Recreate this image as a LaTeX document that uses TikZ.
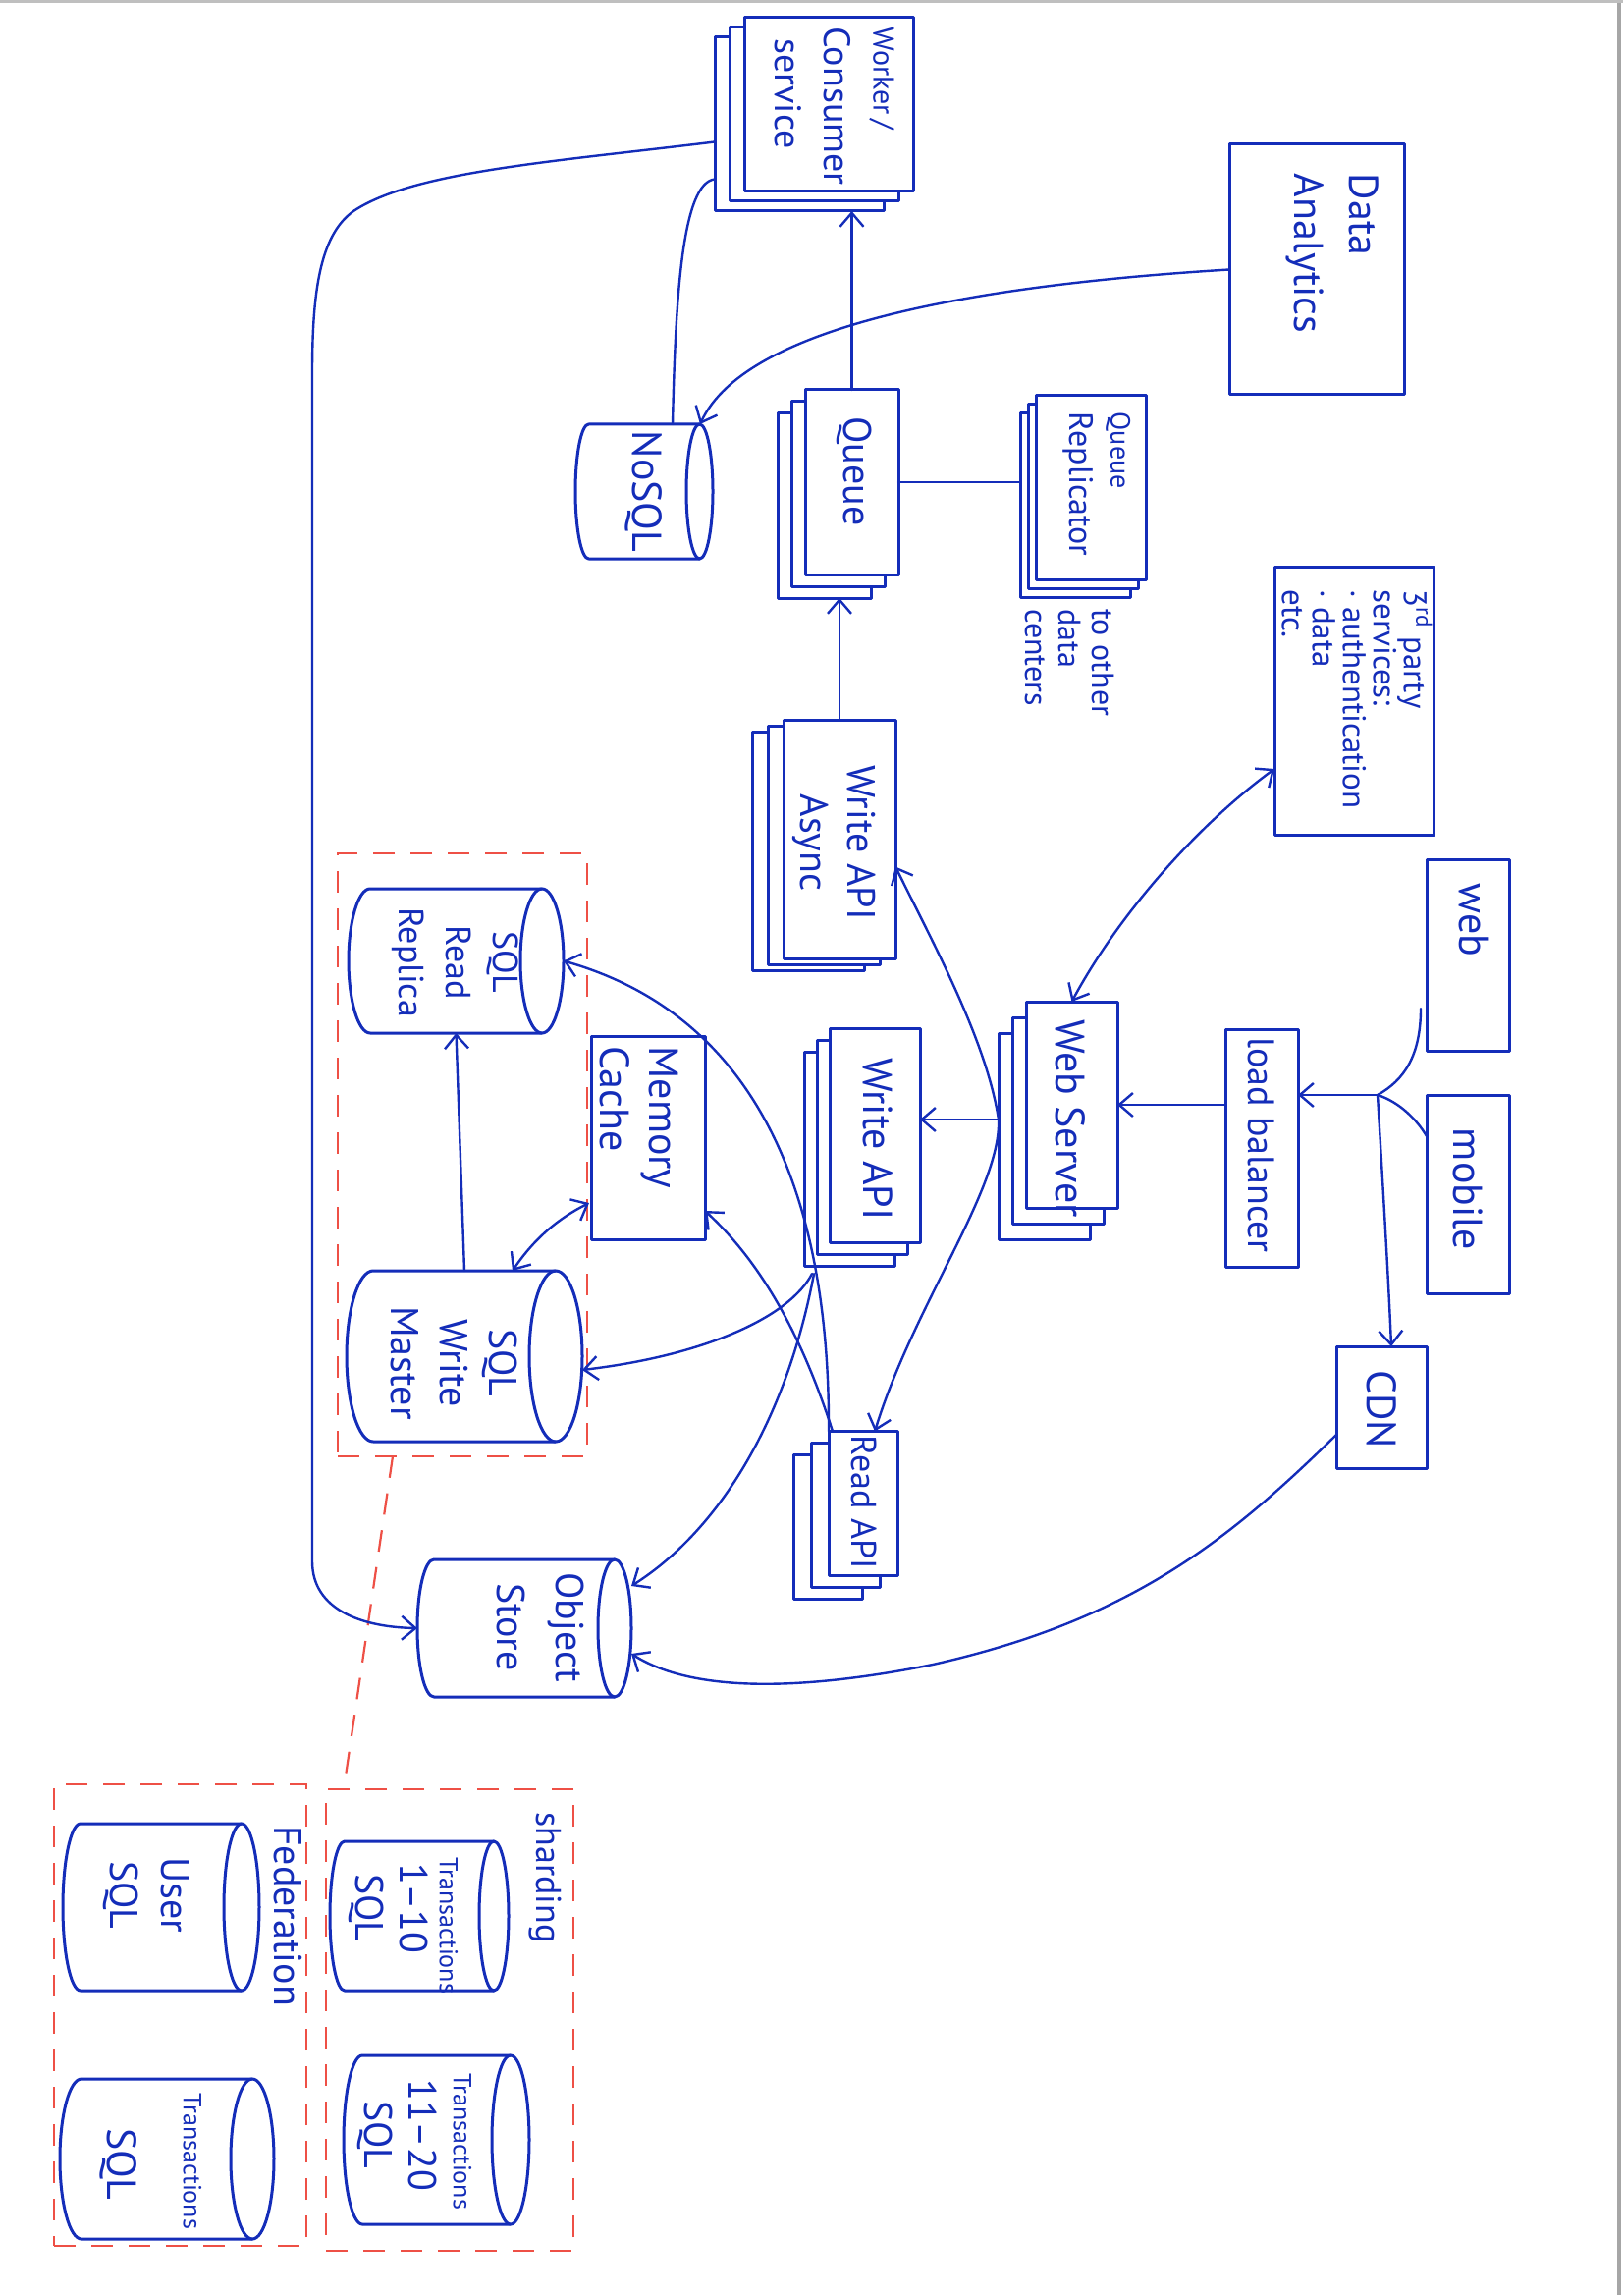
\documentclass[tikz,border=0pt]{standalone}
\usepackage{fontspec}
\setmainfont{PT Sans}
\usetikzlibrary{arrows.meta}
\definecolor{ink}{RGB}{20,45,185}
\definecolor{redpen}{RGB}{238,80,70}
\newcommand{\stackthree}[7]{%
  \node[box,minimum width=#4,minimum height=#5] (#13) at ({#2+2*(#6)},{#3+2*(#7)}) {};
  \node[box,minimum width=#4,minimum height=#5] (#12) at ({#2+(#6)},{#3+(#7)}) {};
  \node[box,minimum width=#4,minimum height=#5] (#1) at (#2,#3) {};}
\newcommand{\cyl}[3]{%
  \draw[boxline] (#1.north east) -- (#1.north west) arc[start angle=90,end angle=270,x radius=#2,y radius=#3] -- (#1.south east);
  \draw[boxline] (#1.east) ellipse[x radius=#2,y radius=#3];}
\begin{document}
\begin{tikzpicture}[x=0.5pt,y=-0.5pt,
  boxline/.style={draw=ink,line width=1.5pt,line join=round,line cap=round},
  box/.style={boxline,fill=white,inner sep=0pt,outer sep=0pt,rectangle},
  anch/.style={inner sep=0pt,outer sep=0pt,rectangle},
  conn/.style={draw=ink,line width=1.2pt,line cap=round},
  arr/.style={conn,-{Straight Barb[length=7pt,width=12pt]}},
  arr2/.style={conn,{Straight Barb[length=7pt,width=12pt]}-{Straight Barb[length=7pt,width=12pt]}},
  txt/.style={rotate=-90,text=ink,inner sep=0pt,align=center,font=\fontsize{21}{25}\selectfont},
  redbox/.style={draw=redpen,line width=1.1pt,dash pattern=on 11pt off 8pt,inner sep=0pt,outer sep=0pt,rectangle},
  reddash/.style={draw=redpen,line width=1.1pt,dash pattern=on 11pt off 8pt}]
\fill[white] (0,0) rectangle (1653,2337);
\useasboundingbox (0,0) rectangle (1653,2337);
\draw[black!35,line width=2pt] (1649,0) -- (1649,2337);
\draw[black!25,line width=1.5pt] (0,2) -- (1653,2);

% red dashed groups
\node[redbox,minimum width=127pt,minimum height=307pt] (grp) at (471,1176) {};
\node[redbox,minimum width=126pt,minimum height=235pt] (shard) at (458,2057) {};
\node[redbox,minimum width=128.5pt,minimum height=235pt] (fed) at (183.5,2052) {};
\draw[reddash] ([xshift=-35.5pt]grp.south) -- ([xshift=9pt]shard.north west);

% stacks
\stackthree{wk}{844}{106.5}{86pt}{88.5pt}{-15}{10}
\stackthree{qu}{867.5}{491}{47.5pt}{94pt}{-14}{12}
\stackthree{rp}{1111}{496.5}{56pt}{93.5pt}{-8}{9}
\stackthree{wa}{855}{854.5}{57pt}{121.5pt}{-16}{6}
\stackthree{ws}{1091.5}{1125}{46.5pt}{105pt}{-14}{16}
\stackthree{wp}{891}{1156}{46pt}{109pt}{-13}{12}
\stackthree{ra}{879}{1531}{35pt}{73.5pt}{-18}{12}

% single boxes
\node[box,minimum width=89pt,minimum height=127.5pt] (da) at (1341,274.5) {};
\node[box,minimum width=81pt,minimum height=136.5pt] (tp) at (1379,713.5) {};
\node[box,minimum width=58pt,minimum height=103.5pt] (mc) at (660,1158.5) {};
\node[box,minimum width=37pt,minimum height=121pt] (lb) at (1285,1169) {};
\node[box,minimum width=42pt,minimum height=97.5pt] (web) at (1495,972.5) {};
\node[box,minimum width=42pt,minimum height=101pt] (mobile) at (1495,1216) {};
\node[box,minimum width=46pt,minimum height=62pt] (cdn) at (1407,1433) {};

% cylinders
\node[anch,minimum width=56.5pt,minimum height=68.5pt] (nosql) at (656,500.5) {};
\cyl{nosql}{6.75pt}{34.25pt}
\node[anch,minimum width=87.5pt,minimum height=73.5pt] (rr) at (464.5,978.5) {};
\cyl{rr}{11pt}{36.75pt}
\node[anch,minimum width=93pt,minimum height=87pt] (wm) at (473,1381) {};
\cyl{wm}{13.5pt}{43.5pt}
\node[anch,minimum width=92pt,minimum height=70pt] (os) at (534,1658) {};
\cyl{os}{8.5pt}{35pt}
\node[anch,minimum width=76pt,minimum height=76pt] (t1) at (427,1951) {};
\cyl{t1}{7.5pt}{38pt}
\node[anch,minimum width=75.5pt,minimum height=86pt] (t2) at (444.5,2179) {};
\cyl{t2}{9.5pt}{43pt}
\node[anch,minimum width=82pt,minimum height=85pt] (us) at (164,1942) {};
\cyl{us}{9pt}{42.5pt}
\node[anch,minimum width=87pt,minimum height=81.5pt] (ts) at (170,2198.5) {};
\cyl{ts}{11pt}{40.75pt}

% texts
\node[txt,align=left,font=\fontsize{19}{25}\selectfont] (wkt) at (850,108) {{\fontsize{15}{17}\selectfont Worker\,/}\\Consumer\\\hspace{6pt}service};
\node[txt,align=left,font=\fontsize{21}{28}\selectfont] (dat) at (1357,258) {Data\\Analytics};
\node[txt] (nosqlt) at (nosql) {NoSQL};
\node[txt,font=\fontsize{20}{25}\selectfont] (qut) at (870,480) {Queue};
\node[txt,align=left,font=\fontsize{17}{21}\selectfont] (rpt) at (1117,493) {{\fontsize{14}{16}\selectfont Queue}\\Replicator};
\node[txt,align=left,anchor=north west,font=\fontsize{16}{17}\selectfont] (dct) at (1135,620) {to other\\data\\centers};
\node[txt,align=left,anchor=north west,font=\fontsize{16.5}{15.5}\selectfont] (tpt) at (1459,600) {3\textsuperscript{rd} party\\services:\\· authentication\\· data\\etc.};
\node[txt,font=\fontsize{20}{24}\selectfont] (wat) at (850,858) {Write API\\Async};
\node[txt] (wst) at (1090,1139) {Web Server};
\node[txt] (wpt) at (894,1160) {Write API};
\node[txt,font=\fontsize{18}{22}\selectfont] (rat) at (880,1530) {Read API};
\node[txt,align=left] (mct) at (651,1138) {Memory\\Cache};
\node[txt,font=\fontsize{19}{22}\selectfont] (lbt) at (1285,1166) {load balancer};
\node[txt] (webt) at (1501,937) {web};
\node[txt] (mobt) at (1495,1211) {mobile};
\node[txt] (cdnt) at (1407,1435) {CDN};
\node[txt,font=\fontsize{20}{30}\selectfont] (ost) at (550,1657) {Object\\Store};
\node[txt,font=\fontsize{18}{24}\selectfont] (rrt) at (464,980) {SQL\\Read\\Replica};
\node[txt,font=\fontsize{20}{25}\selectfont] (wmt) at (462,1388) {SQL\\Write\\Master};
\node[txt,font=\fontsize{18}{20}\selectfont] (shardt) at (555,1912) {sharding};
\node[txt,font=\fontsize{20}{22}\selectfont] (fedt) at (293,1951) {Federation};
\node[txt,font=\fontsize{13}{14}\selectfont] (t1a) at (457,1961) {Transactions};
\node[txt,font=\fontsize{20}{22.5}\selectfont] (t1b) at (396,1943) {1--10\\SQL};
\node[txt,font=\fontsize{13}{14}\selectfont] (t2a) at (471,2181) {Transactions};
\node[txt,font=\fontsize{20}{22.5}\selectfont] (t2b) at (405,2174) {11--20\\SQL};
\node[txt,font=\fontsize{20}{26}\selectfont] (ust) at (149,1930) {User\\SQL};
\node[txt,font=\fontsize{13}{14}\selectfont] (tsa) at (196,2201) {Transactions};
\node[txt] (tsb) at (121,2204) {SQL};

% connectors
\draw[arr] (qu.north) -- (qu.north |- wk3.south);
\draw[arr] (wa.north) -- (wa.north |- qu3.south);
\draw[conn] (qu.east) -- (qu.east -| rp3.west);
\draw[arr] (da.west) .. controls (1000,290) and (760,330) .. ([xshift=28.5pt]nosql.north);
\draw[conn] ([yshift=-28pt]wk3.west) .. controls (695,186) and (688,300) .. ([xshift=14.5pt]nosql.north);
\draw[arr] ([yshift=-9pt]wk3.west) .. controls (560,165) and (420,175) .. (360,215) .. controls (325,240) and (318,300) .. (318,380) -- (318,1590) .. controls (318,1640) and (370,1657) .. ([xshift=-8.5pt]os.west);
\draw[arr2] (ws.north) .. controls (1140,930) and (1220,840) .. ([yshift=33.5pt]tp.south west);
\draw[arr] (lb.west |- ws.east) -- (ws.east);
\path (wp.east) ++(0,-16) coordinate (wpe);
\coordinate (wsl) at (ws3.west |- wpe);
\draw[arr] (wsl) -- (wpe);
\draw[arr] (wsl) .. controls (1005,1060) and (950,960) .. ([yshift=-14pt]wa.east);
\draw[arr] (wsl) .. controls (1020,1210) and (930,1330) .. ([xshift=6pt]ra.north);
\coordinate (jn) at (1403,1115);
\draw[conn] ([shift={(-3pt,21.5pt)}]web.south west) .. controls (1447,1075) and (1430,1100) .. (jn);
\draw[conn] (jn) .. controls (1425,1122) and (1443,1140) .. ([yshift=-21pt]mobile.north west);
\draw[arr] (jn) -- (jn -| lb.east);
\draw[arr] (jn) .. controls (1408,1200) and (1414,1300) .. ([xshift=5pt]cdn.north);
\draw[arr] ([yshift=-14pt]cdn.west) .. controls (1250,1570) and (1150,1650) .. (950,1695) .. controls (800,1725) and (700,1720) .. ([shift={(8.5pt,-13pt)}]os.east);
\draw[arr] (wm.north) -- (rr.south);
\draw[arr2] ([xshift=24.5pt]wm.north) .. controls (545,1260) and (570,1240) .. ([shift={(-1pt,18.5pt)}]mc.south west);
\draw[arr] (ra.north west) .. controls (845,1250) and (790,1040) .. ([xshift=11pt]rr.east);
\draw[arr] ([xshift=2pt]ra.north west) .. controls (820,1370) and (780,1290) .. ([yshift=14.5pt]mc.south east);
\draw[arr] ([shift={(4pt,-4pt)}]wp3.south west) .. controls (805,1340) and (720,1380) .. ([shift={(13.5pt,-7pt)}]wm.east);
\draw[arr] ([shift={(5pt,-4pt)}]wp3.south west) .. controls (800,1450) and (730,1560) .. ([shift={(8.5pt,-13.5pt)}]os.north east);
\end{tikzpicture}
\end{document}
